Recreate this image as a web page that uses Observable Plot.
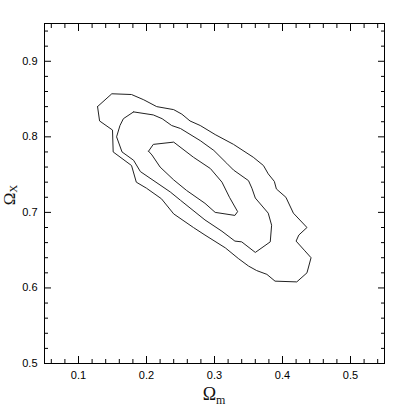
<!DOCTYPE html>
<html><head><meta charset="utf-8">
<script src="https://cdn.jsdelivr.net/npm/d3@7"></script>
<script src="https://cdn.jsdelivr.net/npm/@observablehq/plot@0.6"></script>
<style>html,body{margin:0;padding:0;background:#fff;overflow:hidden}</style>
</head><body><div id="chart"></div>
<script>
// Axis ticks
const xMajorTicks = [0.1, 0.2, 0.3, 0.4, 0.5];
const xMinorTicks = [0.06, 0.08, 0.12, 0.14, 0.16, 0.18, 0.22, 0.24, 0.26, 0.28, 0.32, 0.34, 0.36, 0.38, 0.42, 0.44, 0.46, 0.48, 0.52, 0.54];
const yMajorTicks = [0.5, 0.6, 0.7, 0.8, 0.9];
const yMinorTicks = [0.52, 0.54, 0.56, 0.58, 0.62, 0.64, 0.66, 0.68, 0.72, 0.74, 0.76, 0.78, 0.82, 0.84, 0.86, 0.88, 0.92, 0.94];
const xLabelMain = "Ω", xLabelSub = "m";
const yLabelMain = "Ω", yLabelSub = "X";

// Contours [Ωm, ΩX]
const contourOuter = [[0.128,0.840],[0.149,0.857],[0.178,0.856],[0.196,0.849],[0.215,0.840],[0.240,0.836],[0.252,0.830],[0.264,0.821],[0.279,0.815],[0.301,0.803],[0.328,0.790],[0.357,0.773],[0.372,0.762],[0.379,0.751],[0.388,0.741],[0.391,0.731],[0.405,0.720],[0.416,0.699],[0.436,0.680],[0.424,0.670],[0.420,0.662],[0.432,0.650],[0.442,0.640],[0.436,0.620],[0.421,0.608],[0.389,0.609],[0.377,0.618],[0.362,0.623],[0.350,0.629],[0.335,0.639],[0.316,0.653],[0.286,0.670],[0.269,0.680],[0.240,0.698],[0.222,0.718],[0.200,0.732],[0.185,0.740],[0.178,0.762],[0.151,0.780],[0.150,0.809],[0.131,0.821],[0.128,0.840]];
const contourMiddle = [[0.181,0.833],[0.210,0.829],[0.223,0.824],[0.237,0.815],[0.250,0.811],[0.279,0.795],[0.299,0.782],[0.318,0.765],[0.328,0.756],[0.350,0.742],[0.355,0.732],[0.360,0.719],[0.379,0.699],[0.384,0.683],[0.382,0.661],[0.360,0.647],[0.340,0.661],[0.330,0.662],[0.311,0.675],[0.286,0.690],[0.250,0.716],[0.235,0.727],[0.191,0.754],[0.181,0.769],[0.164,0.780],[0.156,0.800],[0.161,0.815],[0.166,0.824],[0.181,0.833]];
const contourInner = [[0.203,0.781],[0.210,0.790],[0.240,0.793],[0.269,0.773],[0.294,0.758],[0.311,0.740],[0.322,0.720],[0.334,0.701],[0.330,0.696],[0.301,0.700],[0.286,0.712],[0.259,0.729],[0.240,0.743],[0.220,0.760],[0.208,0.776],[0.203,0.781]];

const rows = [];
[["outer", contourOuter], ["middle", contourMiddle], ["inner", contourInner]].forEach(([k, pts]) =>
  pts.forEach(([x, y]) => rows.push({level: k, x, y})));

const W = 407, H = 407;
const plot = Plot.plot({
  width: W, height: H,
  marginLeft: 44, marginRight: 23, marginTop: 23, marginBottom: 44,
  style: {fontFamily: "'Liberation Sans', Arial, Helvetica, sans-serif", fontSize: "11px", background: "white", color: "black", overflow: "visible"},
  x: {domain: [0.05, 0.55]},
  y: {domain: [0.5, 0.95]},
  marks: [
    Plot.frame({stroke: "black", strokeWidth: 1}),
    Plot.line(rows, {x: "x", y: "y", z: "level", stroke: "#222", strokeWidth: 1, curve: "linear"}),
    // major ticks inward
    Plot.axisX({ticks: xMajorTicks, anchor: "bottom", tickSize: -7, text: null, label: null}),
    Plot.axisX({ticks: xMajorTicks, anchor: "top", tickSize: -7, text: null, label: null}),
    Plot.axisY({ticks: yMajorTicks, anchor: "left", tickSize: -7, text: null, label: null}),
    Plot.axisY({ticks: yMajorTicks, anchor: "right", tickSize: -7, text: null, label: null}),
    // minor ticks inward
    Plot.axisX({ticks: xMinorTicks, anchor: "bottom", tickSize: -4, text: null, label: null}),
    Plot.axisX({ticks: xMinorTicks, anchor: "top", tickSize: -4, text: null, label: null}),
    Plot.axisY({ticks: yMinorTicks, anchor: "left", tickSize: -4, text: null, label: null}),
    Plot.axisY({ticks: yMinorTicks, anchor: "right", tickSize: -4, text: null, label: null}),
    // tick labels
    Plot.axisX({ticks: xMajorTicks, anchor: "bottom", tickSize: 0, tickPadding: 8, label: null, tickFormat: d3.format(".1f")}),
    Plot.axisY({ticks: yMajorTicks, anchor: "left", tickSize: 0, tickPadding: 7, label: null, tickFormat: d3.format(".1f")})
  ]
});
document.getElementById("chart").appendChild(plot);

// axis titles with subscripts
const svg = d3.select(plot.tagName.toLowerCase() === "svg" ? plot : plot.querySelector("svg"));
const xs = plot.scale("x"), ys = plot.scale("y");
const cx = (xs.range[0] + xs.range[1]) / 2;
const cy = (ys.range[0] + ys.range[1]) / 2;
const xt = svg.append("text").attr("x", cx).attr("y", 400).attr("text-anchor", "middle")
  .attr("font-family", "'Liberation Serif', 'Times New Roman', serif").attr("fill", "#111");
xt.append("tspan").attr("font-size", 18).text(xLabelMain);
xt.append("tspan").attr("font-size", 12).attr("dy", 4).text(xLabelSub);
const yt = svg.append("text").attr("transform", `translate(15,${cy + 2}) rotate(-90)`).attr("text-anchor", "middle")
  .attr("font-family", "'Liberation Serif', 'Times New Roman', serif").attr("fill", "#111");
yt.append("tspan").attr("font-size", 17).text(yLabelMain);
yt.append("tspan").attr("font-size", 11).attr("dy", 2).text(yLabelSub);
</script>
</body></html>
